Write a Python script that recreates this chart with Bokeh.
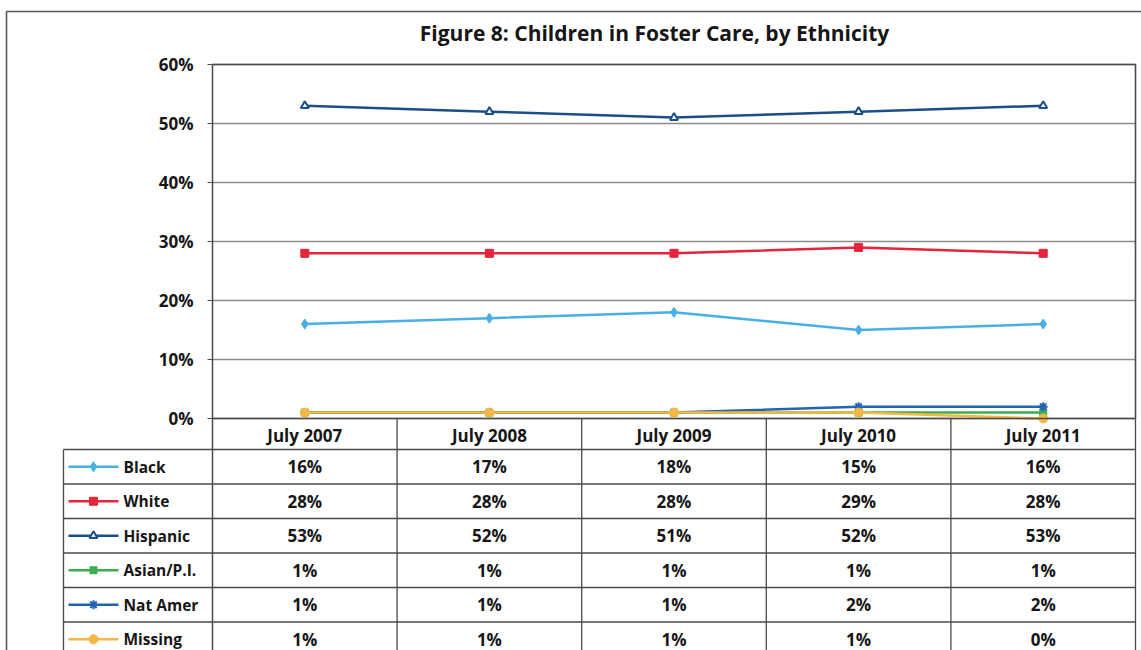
from bokeh.plotting import figure
from bokeh.models import Range1d, FixedTicker, Label, PrintfTickFormatter
from bokeh.core.properties import value
from bokeh.embed import file_html
from bokeh.resources import INLINE

# ---- data -------------------------------------------------------------
periods = ["July 2007", "July 2008", "July 2009", "July 2010", "July 2011"]
black = [16, 17, 18, 15, 16]
white = [28, 28, 28, 29, 28]
hispanic = [53, 52, 51, 52, 53]
asian_pi = [1, 1, 1, 1, 1]
nat_amer = [1, 1, 1, 2, 2]
missing = [1, 1, 1, 1, 0]
y_ticks = [0, 10, 20, 30, 40, 50, 60]

series = [
    ("Black", black, "#4AB0E4", "diamond", 10, "#4AB0E4", 1),
    ("White", white, "#E4253C", "square", 8, "#E4253C", 1),
    ("Hispanic", hispanic, "#1B4F8A", "triangle", 8, "white", 2),
    ("Asian/P.I.", asian_pi, "#3CAE4F", "square", 7, "#3CAE4F", 1),
    ("Nat Amer", nat_amer, "#2163B5", "asterisk", 9, "#2163B5", 2),
    ("Missing", missing, "#F4B844", "circle", 9, "#F4B844", 1),
]

# ---- canvas geometry (pixels) -------------------------------------------
W, H = 1141, 650
X0_PX, COL_PX = 212, 184.6        # left edge of the first period column, column width
Y0_PX, PCT_PX = 418, 5.9          # pixel row of 0 %, pixels per percentage point
ROW_TOP_PX, ROW_PX = 449, 34.5    # top of first table row, row height
LEG_LEFT_PX = 63                  # left edge of the legend column

FONT_NAME = "Open Sans"
FONT = value(FONT_NAME)
FS = "17px"
FS_LEG = "15.5px"
INK = "#161616"
RULE = "#4a4a4a"


def dx(px):
    return (px - X0_PX) / COL_PX


def dy(py):
    return (Y0_PX - py) / PCT_PX


p = figure(
    width=W, height=H,
    x_range=Range1d(dx(0), dx(W)),
    y_range=Range1d(dy(H), dy(0)),
    output_backend="svg", toolbar_location=None,
    min_border=0, outline_line_color=None,
    background_fill_color="white", border_fill_color="white",
)
# table rows: value k is the k-th row boundary, growing downwards
p.extra_y_ranges = {"rows": Range1d((H - ROW_TOP_PX) / ROW_PX, -ROW_TOP_PX / ROW_PX)}
p.xgrid.visible = False
p.ygrid.visible = False

# ---- axes ---------------------------------------------------------------
ya = p.yaxis[0]
ya.fixed_location = 0
ya.ticker = FixedTicker(ticks=y_ticks)
ya.formatter = PrintfTickFormatter(format="%d%%")
ya.bounds = (dy(H), 60)
ya.major_tick_in = 0
ya.major_tick_out = 5
ya.minor_tick_out = 0
ya.minor_tick_in = 0
ya.axis_line_color = RULE
ya.axis_line_width = 1.5
ya.major_tick_line_color = RULE
ya.major_label_standoff = 14
ya.major_label_text_font = FONT_NAME
ya.major_label_text_font_style = "bold"
ya.major_label_text_font_size = FS
ya.major_label_text_color = INK

xa = p.xaxis[0]
xa.fixed_location = 0
centers = [i + 0.5 for i in range(len(periods))]
xa.ticker = FixedTicker(ticks=centers)
xa.major_label_overrides = {c: lab for c, lab in zip(centers, periods)}
xa.bounds = (0, len(periods))
xa.major_tick_in = 0
xa.major_tick_out = 0
xa.minor_tick_in = 0
xa.minor_tick_out = 0
xa.axis_line_color = RULE
xa.axis_line_width = 1.5
xa.major_label_standoff = 5
xa.major_label_text_font = FONT_NAME
xa.major_label_text_font_style = "bold"
xa.major_label_text_font_size = FS
xa.major_label_text_color = INK

# ---- chart frame, gridlines, outer border --------------------------------
n = len(periods)
p.segment(x0=[0] * len(y_ticks), x1=[n] * len(y_ticks), y0=y_ticks, y1=y_ticks,
          line_color="#8c8c8c", line_width=1.3)
p.line([0, n, n], [y_ticks[-1], y_ticks[-1], 0], line_color=RULE, line_width=1.6)
p.line([dx(6), dx(6), dx(W)], [dy(H), dy(11), dy(11)], line_color="#5a5a5a", line_width=1.6)

p.add_layout(Label(x=dx(654), y=dy(32), text="Figure 8: Children in Foster Care, by Ethnicity",
                   text_align="center", text_baseline="middle", text_font=FONT_NAME,
                   text_font_style="bold", text_font_size="21px", text_color=INK))

# ---- series -------------------------------------------------------------
for name, vals, color, marker, size, fill, lw in series:
    p.line(centers, vals, line_color=color, line_width=2.5)
    p.scatter(centers, vals, marker=marker, size=size, line_color=color,
              fill_color=fill, line_width=lw)

# ---- data table ---------------------------------------------------------
nrows = len(series)
k_head = (Y0_PX - ROW_TOP_PX) / ROW_PX
p.segment(x0=[dx(LEG_LEFT_PX)] * (nrows + 1), x1=[n] * (nrows + 1),
          y0=list(range(nrows + 1)), y1=list(range(nrows + 1)),
          line_color=RULE, line_width=1.3, y_range_name="rows")
p.segment(x0=[dx(LEG_LEFT_PX)] + list(range(1, n + 1)),
          x1=[dx(LEG_LEFT_PX)] + list(range(1, n + 1)),
          y0=[0] + [k_head] * n, y1=[nrows] * (n + 1),
          line_color=RULE, line_width=1.3, y_range_name="rows")

cell_x, cell_y, cell_t = [], [], []
for r, (name, vals, *_rest) in enumerate(series):
    for c, v in enumerate(vals):
        cell_x.append(c + 0.5)
        cell_y.append(r + 0.5)
        cell_t.append(f"{v}%")
p.text(cell_x, cell_y, text=cell_t, text_font=FONT, text_font_style="bold",
       text_font_size=FS, text_color=INK, text_align="center",
       text_baseline="middle", y_range_name="rows")

for r, (name, vals, color, marker, size, fill, lw) in enumerate(series):
    yk = r + 0.5
    p.line([dx(68), dx(118)], [yk, yk], line_color=color, line_width=2.5, y_range_name="rows")
    p.scatter([dx(93)], [yk], marker=marker, size=size, line_color=color,
              fill_color=fill, line_width=lw, y_range_name="rows")
p.text([dx(123)] * nrows, [r + 0.5 for r in range(nrows)], text=[s[0] for s in series],
       text_font=FONT, text_font_style="bold", text_font_size=FS_LEG, text_color=INK,
       text_align="left", text_baseline="middle", y_range_name="rows")

open("out.html", "w").write(file_html(p, INLINE))
